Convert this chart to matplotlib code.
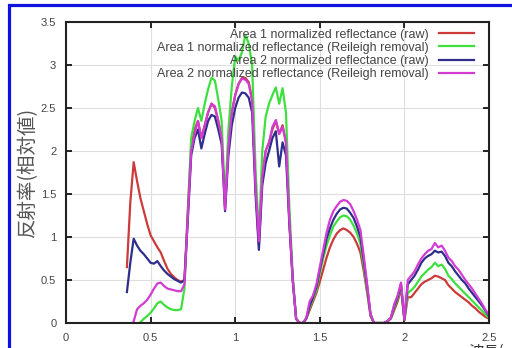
import matplotlib
matplotlib.use("Agg")
import matplotlib.pyplot as plt
from matplotlib.patches import Rectangle
from matplotlib.ticker import FuncFormatter, MultipleLocator
import numpy as np

nan = np.nan

# wavelength grid (um), 0.02 step from 0.36 to 2.50
wavelength = np.round(np.arange(0.36, 2.5001, 0.02), 2)

area1_raw = [
    0.65, 1.40, 1.87, 1.65, 1.45, 1.30, 1.15, 1.02, 0.95, 0.88,
    0.82, 0.72, 0.63, 0.57, 0.53, 0.50, 0.48, 0.50, 1.30, 2.05,
    2.25, 2.35, 2.15, 2.30, 2.45, 2.55, 2.50, 2.35, 2.15, 1.35,
    2.05, 2.45, 2.65, 2.78, 2.85, 2.85, 2.80, 2.60, 1.60, 0.90,
    1.70, 2.00, 2.10, 2.25, 2.35, 2.20, 2.30, 2.10, 1.20, 0.50,
    0.05, 0.00, 0.00, 0.05, 0.15, 0.25, 0.35, 0.48, 0.62, 0.76,
    0.88, 0.97, 1.04, 1.08, 1.10, 1.08, 1.05, 1.00, 0.92, 0.82,
    0.60, 0.35, 0.08, 0.00, 0.00, 0.00, 0.00, 0.02, 0.05, 0.15,
    0.25, 0.40, 0.03, 0.30, 0.30, 0.35, 0.40, 0.45, 0.48, 0.50,
    0.52, 0.55, 0.54, 0.52, 0.50, 0.44, 0.40, 0.36, 0.33, 0.30,
    0.27, 0.24, 0.20, 0.17, 0.13, 0.10, 0.07, 0.05,
]

area1_rayleigh = [
    nan, nan, nan, nan, 0.01, 0.05, 0.08, 0.12, 0.17, 0.23,
    0.25, 0.21, 0.18, 0.16, 0.15, 0.15, 0.16, 0.40, 1.30, 2.15,
    2.35, 2.50, 2.35, 2.55, 2.72, 2.85, 2.82, 2.60, 2.35, 1.40,
    2.25, 2.75, 3.10, 3.05, 3.15, 3.35, 3.25, 3.00, 1.80, 1.00,
    2.00, 2.40, 2.55, 2.65, 2.74, 2.55, 2.73, 2.45, 1.35, 0.55,
    0.05, 0.00, 0.00, 0.05, 0.18, 0.28, 0.38, 0.58, 0.75, 0.90,
    1.02, 1.12, 1.18, 1.23, 1.25, 1.24, 1.20, 1.13, 1.04, 0.92,
    0.66, 0.38, 0.09, 0.00, 0.00, 0.00, 0.00, 0.02, 0.06, 0.18,
    0.28, 0.43, 0.04, 0.35, 0.38, 0.42, 0.48, 0.54, 0.58, 0.62,
    0.65, 0.70, 0.66, 0.68, 0.63, 0.55, 0.51, 0.46, 0.42, 0.38,
    0.34, 0.30, 0.26, 0.22, 0.18, 0.14, 0.10, 0.06,
]

area2_raw = [
    0.36, 0.70, 0.98, 0.90, 0.84, 0.80, 0.75, 0.70, 0.69, 0.72,
    0.66, 0.61, 0.57, 0.54, 0.51, 0.49, 0.47, 0.50, 1.20, 1.95,
    2.15, 2.25, 2.03, 2.20, 2.35, 2.42, 2.40, 2.25, 2.08, 1.30,
    1.95, 2.30, 2.50, 2.62, 2.68, 2.67, 2.62, 2.45, 1.50, 0.85,
    1.60, 1.86, 2.00, 2.15, 2.23, 1.82, 2.10, 1.95, 1.15, 0.50,
    0.05, 0.00, 0.00, 0.05, 0.20, 0.30, 0.42, 0.62, 0.80, 0.98,
    1.10, 1.20, 1.27, 1.32, 1.34, 1.33, 1.28, 1.22, 1.12, 1.00,
    0.72, 0.42, 0.10, 0.00, 0.00, 0.00, 0.00, 0.02, 0.06, 0.20,
    0.30, 0.45, 0.04, 0.45, 0.50, 0.55, 0.62, 0.70, 0.75, 0.78,
    0.80, 0.84, 0.82, 0.83, 0.78, 0.70, 0.66, 0.60, 0.55, 0.50,
    0.46, 0.40, 0.35, 0.30, 0.25, 0.20, 0.14, 0.08,
]

area2_rayleigh = [
    nan, nan, 0.02, 0.16, 0.20, 0.23, 0.27, 0.33, 0.40, 0.46,
    0.47, 0.43, 0.40, 0.39, 0.38, 0.37, 0.37, 0.45, 1.25, 2.00,
    2.20, 2.35, 2.15, 2.30, 2.45, 2.55, 2.52, 2.35, 2.15, 1.32,
    2.05, 2.45, 2.65, 2.78, 2.84, 2.83, 2.78, 2.58, 1.60, 0.95,
    1.70, 2.00, 2.10, 2.28, 2.36, 2.20, 2.28, 2.10, 1.20, 0.50,
    0.05, 0.00, 0.00, 0.06, 0.25, 0.32, 0.45, 0.65, 0.85, 1.05,
    1.20, 1.30, 1.36, 1.41, 1.43, 1.42, 1.38, 1.30, 1.20, 1.08,
    0.78, 0.45, 0.10, 0.00, 0.00, 0.00, 0.00, 0.02, 0.06, 0.22,
    0.32, 0.47, 0.04, 0.50, 0.55, 0.60, 0.68, 0.75, 0.80, 0.84,
    0.86, 0.93, 0.88, 0.90, 0.84, 0.76, 0.72, 0.66, 0.62, 0.56,
    0.50, 0.45, 0.40, 0.34, 0.28, 0.22, 0.15, 0.09,
]

labels = [
    "Area 1 normalized reflectance (raw)",
    "Area 1 normalized reflectance (Reileigh removal)",
    "Area 2 normalized reflectance (raw)",
    "Area 2 normalized reflectance (Reileigh removal)",
]
colors = ["#cc3a3a", "#3ee03e", "#2e2e8c", "#d23cd2"]

plt.rcParams["font.family"] = ["Liberation Sans", "DejaVu Sans"]

fig = plt.figure(figsize=(5.12, 3.48), dpi=100)
ax = fig.add_axes([66 / 512, 25 / 348, 423 / 512, 301 / 348])

for y, lab, c in zip([area1_raw, area1_rayleigh, area2_raw, area2_rayleigh], labels, colors):
    ax.plot(wavelength, y, color=c, linewidth=1.6, label=lab)

ax.set_xlim(0, 2.5)
ax.set_ylim(0, 3.5)
ax.xaxis.set_major_locator(MultipleLocator(0.5))
ax.yaxis.set_major_locator(MultipleLocator(0.5))
fmt = FuncFormatter(lambda v, p: f"{v:g}")
ax.xaxis.set_major_formatter(fmt)
ax.yaxis.set_major_formatter(fmt)
ax.tick_params(direction="in", length=4, width=1.2, top=True, right=True,
               labelsize=8, labelcolor="#444444", pad=7)
ax.grid(True, color="#dedede", linewidth=0.8)
ax.set_axisbelow(True)
for s in ax.spines.values():
    s.set_linewidth(1.5)
    s.set_color("#222222")

ax.set_ylabel("反射率(相対値)", family=["Noto Sans CJK JP", "DejaVu Sans"],
              fontsize=14, color="#555555", labelpad=2)

leg = ax.legend(loc="upper right", bbox_to_anchor=(0.9645, 0.978),
                markerfirst=False, frameon=False, fontsize=9,
                handlelength=2.8, labelspacing=0.1, borderpad=0,
                borderaxespad=0, handletextpad=0.8)
for t in leg.get_texts():
    t.set_color("#444444")

# outer blue frame of the source picture
fig.patches.append(Rectangle((8.5 / 512, -0.1), 1.2, 1 - 4.5 / 348 + 0.1,
                             transform=fig.transFigure, fill=False,
                             edgecolor="#1010e0", linewidth=2.3))
fig.text(0.915, 4 / 348, "波長(μm)", family=["Noto Sans CJK JP", "DejaVu Sans"],
         fontsize=11, color="#333333", va="top", ha="left")

fig.savefig("out.png", dpi=100)
